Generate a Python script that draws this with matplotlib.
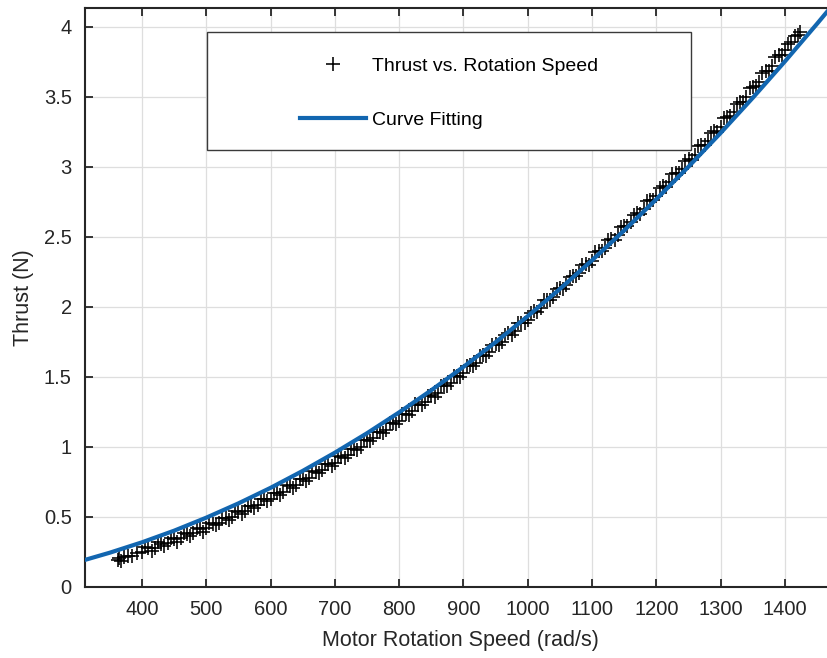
import matplotlib
matplotlib.use('Agg')
import matplotlib.pyplot as plt
from matplotlib.patches import Rectangle

speed = [362, 365, 368, 372, 378, 385, 392, 400, 410, 420, 430, 440, 450, 460, 470, 480,
         490, 500, 510, 520, 530, 540, 550, 560, 570, 580, 590, 600, 610, 620, 630, 640,
         650, 660, 670, 680, 690, 700, 710, 720, 730, 740, 750, 760, 770, 780, 790, 800,
         810, 820, 830, 840, 850, 860, 870, 880, 890, 900, 910, 920, 930, 940, 950, 960,
         970, 980, 990, 1000, 1010, 1020, 1030, 1040, 1050, 1060, 1070, 1080, 1090, 1100,
         1110, 1120, 1130, 1140, 1150, 1160, 1170, 1180, 1190, 1200, 1210, 1220, 1230, 1240,
         1250, 1260, 1270, 1280, 1290, 1300, 1310, 1320, 1330, 1340, 1350, 1360, 1370, 1380,
         1390, 1400, 1405, 1410, 1415, 1420, 1424]
thrust = [0.190, 0.205, 0.183, 0.212, 0.218, 0.222, 0.241, 0.250, 0.276, 0.281, 0.307, 0.312,
          0.343, 0.349, 0.380, 0.383, 0.416, 0.418, 0.452, 0.459, 0.490, 0.500, 0.536, 0.543,
          0.577, 0.587, 0.625, 0.631, 0.668, 0.680, 0.719, 0.731, 0.770, 0.781, 0.822, 0.832,
          0.875, 0.886, 0.931, 0.944, 0.987, 1.001, 1.047, 1.062, 1.109, 1.124, 1.173, 1.188,
          1.238, 1.254, 1.303, 1.318, 1.368, 1.386, 1.440, 1.457, 1.510, 1.528, 1.583, 1.602,
          1.657, 1.676, 1.732, 1.752, 1.810, 1.830, 1.888, 1.908, 1.968, 1.991, 2.050, 2.073,
          2.134, 2.158, 2.221, 2.245, 2.308, 2.331, 2.397, 2.421, 2.487, 2.511, 2.577, 2.603,
          2.672, 2.698, 2.766, 2.792, 2.861, 2.889, 2.958, 2.986, 3.055, 3.084, 3.155, 3.185,
          3.256, 3.285, 3.359, 3.391, 3.466, 3.498, 3.572, 3.607, 3.684, 3.719, 3.796, 3.831,
          3.879, 3.888, 3.934, 3.941, 3.962]

# second sweep of samples, sitting between the first ones
speed2 = [405, 415, 425, 435, 445, 455, 465, 475, 485, 495, 505, 515, 525, 535, 545, 555,
          565, 575, 585, 595, 605, 615, 625, 635, 645, 655, 665, 675, 685, 695, 705, 715,
          725, 735, 745, 755, 765, 775, 785, 795, 805, 815, 825, 835, 845, 855, 865, 875,
          885, 895, 905, 915, 925, 935, 945, 955, 965, 975, 985, 995, 1005, 1015, 1025, 1035,
          1045, 1055, 1065, 1075, 1085, 1095, 1105, 1115, 1125, 1135, 1145, 1155, 1165, 1175,
          1185, 1195, 1205, 1215, 1225, 1235, 1245, 1255, 1265, 1275, 1285, 1295, 1305, 1315,
          1325, 1335, 1345, 1355, 1365, 1375, 1385, 1395]
thrust2 = [0.283, 0.259, 0.320, 0.296, 0.347, 0.324, 0.387, 0.365, 0.418, 0.396, 0.460, 0.441,
           0.496, 0.477, 0.542, 0.523, 0.580, 0.563, 0.630, 0.612, 0.671, 0.656, 0.725, 0.710,
           0.770, 0.755, 0.827, 0.813, 0.875, 0.861, 0.934, 0.923, 0.987, 0.975, 1.049, 1.039,
           1.106, 1.098, 1.174, 1.166, 1.234, 1.226, 1.304, 1.296, 1.364, 1.358, 1.438, 1.434,
           1.504, 1.500, 1.581, 1.578, 1.650, 1.648, 1.730, 1.728, 1.802, 1.801, 1.885, 1.884,
           1.959, 1.960, 2.047, 2.048, 2.125, 2.127, 2.216, 2.219, 2.298, 2.301, 2.391, 2.396,
           2.476, 2.481, 2.571, 2.577, 2.659, 2.666, 2.759, 2.766, 2.848, 2.857, 2.950, 2.959,
           3.042, 3.051, 3.146, 3.157, 3.242, 3.252, 3.349, 3.362, 3.450, 3.464, 3.562, 3.576,
           3.667, 3.683, 3.784, 3.800]

# fitted curve
fit_speed = [300, 311, 350, 400, 450, 500, 550, 600, 650, 700, 750, 800, 850, 900, 950, 1000,
             1050, 1100, 1150, 1200, 1250, 1300, 1350, 1400, 1450, 1466, 1480]
fit_thrust = [0.180, 0.193, 0.245, 0.319, 0.402, 0.495, 0.597, 0.708, 0.829, 0.959, 1.098,
              1.247, 1.405, 1.572, 1.748, 1.934, 2.128, 2.333, 2.546, 2.769, 3.001, 3.242,
              3.493, 3.753, 4.022, 4.110, 4.185]

xticks = [400, 500, 600, 700, 800, 900, 1000, 1100, 1200, 1300, 1400]
yticks = [0, 0.5, 1, 1.5, 2, 2.5, 3, 3.5, 4]
ytick_labels = ['0', '0.5', '1', '1.5', '2', '2.5', '3', '3.5', '4']

plt.rcParams['font.family'] = ['Liberation Sans', 'DejaVu Sans']

W, H = 827, 658
fig = plt.figure(figsize=(W / 100, H / 100), dpi=100)
ax = fig.add_axes([85 / W, 1 - 587 / H, 750 / W, 579 / H])

blue = '#1266B0'
dark = '#262626'

pts, = ax.plot(speed + speed2, thrust + thrust2, '+', color='black', markersize=10,
               markeredgewidth=1.15, label='Thrust vs. Rotation Speed', zorder=3)
fit, = ax.plot(fit_speed, fit_thrust, '-', color=blue, linewidth=3, label='Curve Fitting',
               zorder=4)

ax.set_xlim(311.4, 1477.8)
ax.set_ylim(0, 4.134)
ax.set_xticks(xticks)
ax.set_yticks(yticks)
ax.set_yticklabels(ytick_labels)

ax.grid(True, color='#dedede', linewidth=0.9)
ax.set_axisbelow(True)
ax.tick_params(direction='in', length=6, width=1.3, colors=dark, labelsize=14.5,
               top=True, right=True, pad=9.5)
for s in ax.spines.values():
    s.set_linewidth(1.5)
    s.set_color(dark)

ax.set_xlabel('Motor Rotation Speed (rad/s)', fontsize=15.5, color=dark, labelpad=8)
ax.set_ylabel('Thrust (N)', fontsize=15.5, color=dark, labelpad=7)

# legend box drawn separately, entries centred in it
box = Rectangle((207 / W, 1 - 150 / H), 484 / W, 118 / H, transform=fig.transFigure,
                facecolor='white', edgecolor='#3a3a3a', linewidth=1.0, zorder=5)
fig.add_artist(box)
leg = fig.legend([pts, fit], ['Thrust vs. Rotation Speed', 'Curve Fitting'],
                 loc='center', bbox_to_anchor=(449 / W, 1 - 93 / H), frameon=False,
                 fontsize=14, handlelength=3.4, handletextpad=0.3, labelspacing=1.85,
                 borderpad=0)
leg.set_zorder(6)
for t in leg.get_texts():
    t.set_color('black')

fig.savefig('out.png', dpi=100)
